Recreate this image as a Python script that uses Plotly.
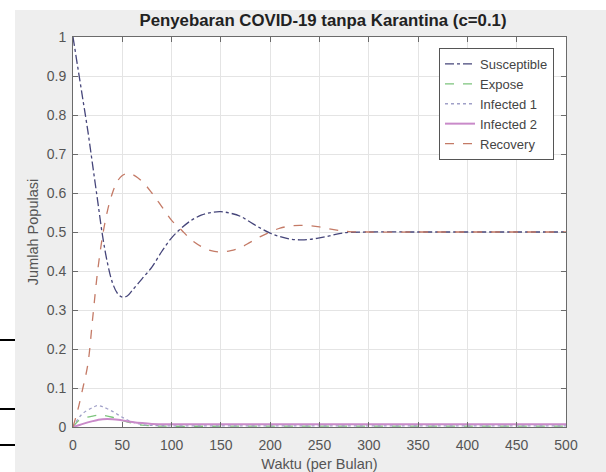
import plotly.graph_objects as go

# ---- data ----
t_s = [0, 5, 10, 15, 20, 25, 30, 35, 40, 45, 50, 55, 60, 70, 80, 90, 100, 110, 120, 130, 140, 150,
       160, 170, 180, 190, 200, 210, 220, 230, 240, 250, 260, 270, 280, 300, 350, 400, 450, 500]
susceptible = [1.0, 0.92, 0.84, 0.76, 0.67, 0.58, 0.49, 0.42, 0.37, 0.343, 0.333, 0.336, 0.35, 0.38,
               0.41, 0.45, 0.485, 0.51, 0.53, 0.543, 0.55, 0.552, 0.548, 0.54, 0.525, 0.51, 0.497,
               0.488, 0.482, 0.48, 0.481, 0.485, 0.49, 0.496, 0.499, 0.5, 0.5, 0.5, 0.5, 0.5]
recovery = [0.0, 0.045, 0.1, 0.16, 0.28, 0.40, 0.49, 0.555, 0.6, 0.63, 0.645, 0.65, 0.648, 0.63,
            0.6, 0.565, 0.53, 0.505, 0.48, 0.463, 0.452, 0.449, 0.452, 0.46, 0.474, 0.488, 0.5,
            0.51, 0.515, 0.517, 0.516, 0.513, 0.508, 0.504, 0.501, 0.5, 0.5, 0.5, 0.5, 0.5]

t_small = [0, 5, 10, 20, 25, 30, 40, 50, 60, 70, 80, 100, 150, 200, 300, 400, 500]
expose = [0.0, 0.015, 0.022, 0.028, 0.03, 0.03, 0.025, 0.017, 0.01, 0.005, 0.003, 0.002, 0.002,
          0.002, 0.002, 0.002, 0.002]
infected1 = [0.0, 0.02, 0.035, 0.05, 0.055, 0.052, 0.04, 0.025, 0.013, 0.006, 0.004, 0.003, 0.003,
             0.003, 0.003, 0.003, 0.003]
infected2 = [0.0, 0.004, 0.008, 0.015, 0.018, 0.02, 0.02, 0.017, 0.013, 0.01, 0.008, 0.007, 0.007,
             0.007, 0.007, 0.007, 0.007]

x_ticks = [0, 50, 100, 150, 200, 250, 300, 350, 400, 450, 500]
y_ticks = [0, 0.1, 0.2, 0.3, 0.4, 0.5, 0.6, 0.7, 0.8, 0.9, 1]
y_tick_labels = ["0", "0.1", "0.2", "0.3", "0.4", "0.5", "0.6", "0.7", "0.8", "0.9", "1"]

W, H = 606, 472
L, R, T, B = 73, 40, 37, 45
pw, ph = W - L - R, H - T - B
FONT = "Liberation Sans, Arial, sans-serif"
BG = "#eeeeee"


def px(xp):
    return (xp - L) / pw


def py(yp):
    return (H - B - yp) / ph


fig = go.Figure()
fig.add_trace(go.Scatter(x=t_s, y=susceptible, name="Susceptible", mode="lines", line_shape="spline",
                         line=dict(color="#45457a", width=1.3, dash="dashdot")))
fig.add_trace(go.Scatter(x=t_small, y=expose, name="Expose", mode="lines", line_shape="spline",
                         line=dict(color="#7cc47c", width=1.3, dash="dash")))
fig.add_trace(go.Scatter(x=t_small, y=infected1, name="Infected 1", mode="lines", line_shape="spline",
                         line=dict(color="#a0a0c8", width=1.3, dash="dot")))
fig.add_trace(go.Scatter(x=t_small, y=infected2, name="Infected 2", mode="lines", line_shape="spline",
                         line=dict(color="#c98ac9", width=2)))
fig.add_trace(go.Scatter(x=t_s, y=recovery, name="Recovery", mode="lines", line_shape="spline",
                         line=dict(color="#c47a66", width=1.3, dash="dash")))

shapes = [
    # white strips at the left and top edges
    dict(type="rect", xref="paper", yref="paper", x0=px(-2), x1=px(15), y0=py(H + 2), y1=py(-2),
         fillcolor="white", line=dict(width=0), layer="above"),
    dict(type="rect", xref="paper", yref="paper", x0=px(-2), x1=px(W + 2), y0=py(10), y1=py(-2),
         fillcolor="white", line=dict(width=0), layer="above"),
]
for yy in [340, 409, 445]:
    shapes.append(dict(type="line", xref="paper", yref="paper", x0=px(0), x1=px(15), y0=py(yy), y1=py(yy),
                       line=dict(color="black", width=2), layer="above"))

axis_common = dict(showline=True, linecolor="#6b6b6b", linewidth=1, mirror="ticks", ticks="inside",
                   ticklen=5, tickcolor="#6b6b6b", showgrid=True, gridcolor="#e4e4e4", gridwidth=1,
                   zeroline=False, automargin=False,
                   tickfont=dict(family=FONT, size=14, color="#555555"))

fig.update_layout(
    width=W, height=H,
    margin=dict(l=L, r=R, t=T, b=B, autoexpand=False),
    paper_bgcolor=BG, plot_bgcolor="white",
    shapes=shapes,
    title=dict(text="<b>Penyebaran COVID-19 tanpa Karantina (c=0.1)</b>", xref="paper", x=px(323),
               xanchor="center", yref="container", y=1 - 20 / H, yanchor="middle",
               font=dict(family=FONT, size=16.8, color="#222222")),
    xaxis=dict(range=[0, 500], tickvals=x_ticks, ticktext=[str(v) for v in x_ticks],
               ticklabelstandoff=5,
               title=dict(text="Waktu (per Bulan)", standoff=9,
                          font=dict(family=FONT, size=14.5, color="#555555")),
               **axis_common),
    yaxis=dict(range=[0, 1], tickvals=y_ticks, ticktext=y_tick_labels,
               ticklabelstandoff=3,
               title=dict(text="Jumlah Populasi", standoff=4,
                          font=dict(family=FONT, size=14.5, color="#555555")),
               **axis_common),
    legend=dict(x=px(554), y=py(48), xanchor="right", yanchor="top", bgcolor="white",
                bordercolor="#555555", borderwidth=1,
                font=dict(family=FONT, size=13, color="#444444"),
                tracegroupgap=0, itemwidth=30),
    showlegend=True,
)

fig.write_html("out.html", config={"displayModeBar": False},
               post_script="document.body.style.margin='0';document.body.style.padding='0';"
                           "document.body.style.background='" + BG + "';")
